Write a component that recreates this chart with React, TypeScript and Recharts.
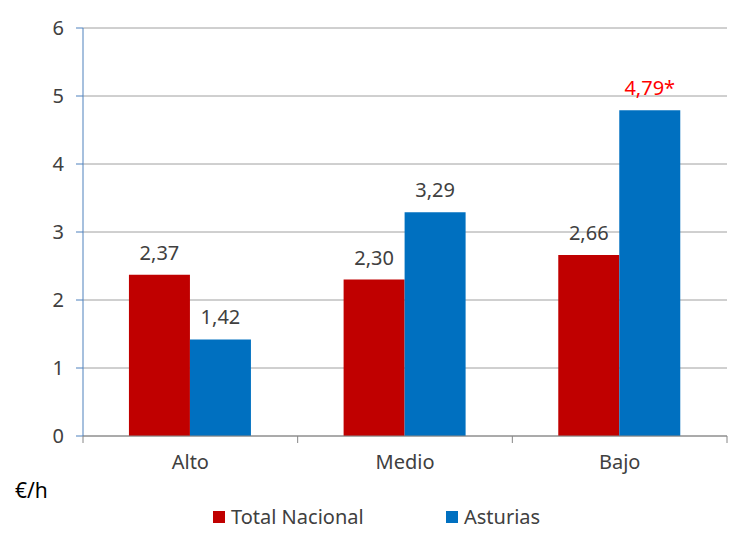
import { BarChart, Bar, XAxis, YAxis, CartesianGrid, LabelList } from "recharts"

const categories = ["Alto", "Medio", "Bajo"]
const totalNacional = [2.37, 2.3, 2.66]
const asturias = [1.42, 3.29, 4.79]
const yTicks = [0, 1, 2, 3, 4, 5, 6]

const RED = "#c00000"
const BLUE = "#0070c0"
const TEXT = "#404040"
const AXIS = "#868686"
const FONT = "'Noto Sans', sans-serif"
const FS = 20
const TICK_MARGIN = 19

const data = categories.map((c, i) => ({ cat: c, total: totalNacional[i], ast: asturias[i] }))

const fmt = (v: number) => v.toFixed(2).replace(".", ",")

function makeLabel(highlightLast: boolean) {
  return (props: any) => {
    const { x, y, width, value, index } = props
    const special = highlightLast && index === data.length - 1
    return (
      <text
        x={x + width / 2}
        y={y - 15}
        textAnchor="middle"
        fontSize={FS}
        fontFamily={FONT}
        fill={special ? "#ff0000" : TEXT}
      >
        {fmt(value) + (special ? "*" : "")}
      </text>
    )
  }
}

// category tick: label at the band centre, tick marks at the band edges
function CatTick(props: any) {
  const { x, y, payload, index } = props
  const half = payload.offset ?? 0
  const axisY = y - TICK_MARGIN
  return (
    <g>
      <line x1={x - half} x2={x - half} y1={axisY} y2={axisY + 7} stroke={AXIS} />
      {index === categories.length - 1 && (
        <line x1={x + half} x2={x + half} y1={axisY} y2={axisY + 7} stroke={AXIS} />
      )}
      <text x={x} y={y} dy="0.71em" textAnchor="middle" fontSize={FS} fontFamily={FONT} fill={TEXT}>
        {payload.value}
      </text>
    </g>
  )
}

export default function App() {
  return (
    <div style={{ position: "absolute", left: 0, top: 0, width: 750, height: 543, background: "#fff", fontFamily: FONT }}>
      <BarChart
        width={750}
        height={543}
        data={data}
        margin={{ top: 28, right: 23, left: 0, bottom: 67 }}
        barCategoryGap="21.4%"
        barGap={0}
      >
        <CartesianGrid vertical={false} stroke="#a0a0a0" />
        <XAxis
          dataKey="cat"
          height={40}
          stroke={AXIS}
          tickLine={false}
          tickSize={0}
          tickMargin={TICK_MARGIN}
          interval={0}
          tick={<CatTick />}
        />
        <YAxis
          width={83}
          domain={[0, 6]}
          ticks={yTicks}
          interval={0}
          stroke="#4f81bd"
          tickSize={7}
          tickMargin={12}
          tick={{ fill: TEXT, fontSize: FS, fontFamily: FONT }}
        />
        <Bar dataKey="total" name="Total Nacional" fill={RED} isAnimationActive={false}>
          <LabelList dataKey="total" content={makeLabel(false)} />
        </Bar>
        <Bar dataKey="ast" name="Asturias" fill={BLUE} isAnimationActive={false}>
          <LabelList dataKey="ast" content={makeLabel(true)} />
        </Bar>
      </BarChart>
      <div style={{ position: "absolute", left: 15, top: 476, fontSize: 21, color: "#000" }}>€/h</div>
      <div style={{ position: "absolute", left: 213, top: 503, display: "flex", alignItems: "center", fontSize: FS, color: TEXT }}>
        <span style={{ width: 12, height: 12, background: RED, display: "inline-block", marginRight: 6 }} />
        <span>Total Nacional</span>
      </div>
      <div style={{ position: "absolute", left: 446, top: 503, display: "flex", alignItems: "center", fontSize: FS, color: TEXT }}>
        <span style={{ width: 12, height: 12, background: BLUE, display: "inline-block", marginRight: 6 }} />
        <span>Asturias</span>
      </div>
    </div>
  )
}
